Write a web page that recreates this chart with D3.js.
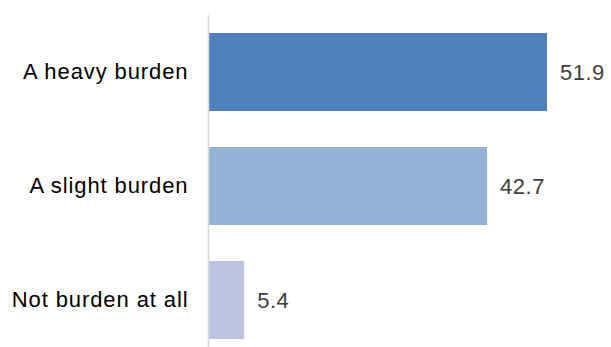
<!DOCTYPE html>
<html>
<head>
<meta charset="utf-8">
<script src="https://cdn.jsdelivr.net/npm/d3@7"></script>
<style>
  html, body { margin: 0; padding: 0; background: #fff; }
  svg { display: block; font-family: "Liberation Sans", Arial, sans-serif; }
</style>
</head>
<body>
<svg id="chart" width="611" height="347"></svg>
<script>
const categories = ["A heavy burden", "A slight burden", "Not burden at all"];
const values = [51.9, 42.7, 5.4];
const colors = ["#4f81bd", "#95b3d7", "#bec4df"];

const svg = d3.select("#chart");
const axisX = 209;
const x = d3.scaleLinear().domain([0, 51.9]).range([axisX, 547]);
const y = d3.scaleBand().domain(categories).range([15, 357]).paddingInner(0.316).paddingOuter(0.158);

// bars
svg.selectAll("rect.bar").data(values).join("rect")
  .attr("class", "bar")
  .attr("x", x(0))
  .attr("y", (d, i) => y(categories[i]))
  .attr("width", d => x(d) - x(0))
  .attr("height", y.bandwidth())
  .attr("fill", (d, i) => colors[i]);

// category axis
const axis = d3.axisLeft(y).tickSize(0).tickPadding(20);
const g = svg.append("g").attr("transform", `translate(${axisX - 0.5},0)`).call(axis);
g.select(".domain").attr("stroke", "#d9d9d9").attr("stroke-width", 1.5).attr("d", "M0,15V347");
g.selectAll("text")
  .style("font-size", "22px")
  .style("letter-spacing", "0.9px")
  .style("font-family", "'Liberation Sans', Arial, sans-serif")
  .attr("fill", "#000");

// value labels
svg.selectAll("text.val").data(values).join("text")
  .attr("class", "val")
  .attr("x", d => x(d) + 13)
  .attr("y", (d, i) => y(categories[i]) + y.bandwidth() / 2)
  .attr("dy", "0.35em")
  .style("font-size", "22px")
  .style("letter-spacing", "0.5px")
  .attr("fill", "#404040")
  .text(d => d.toFixed(1));
</script>
</body>
</html>
